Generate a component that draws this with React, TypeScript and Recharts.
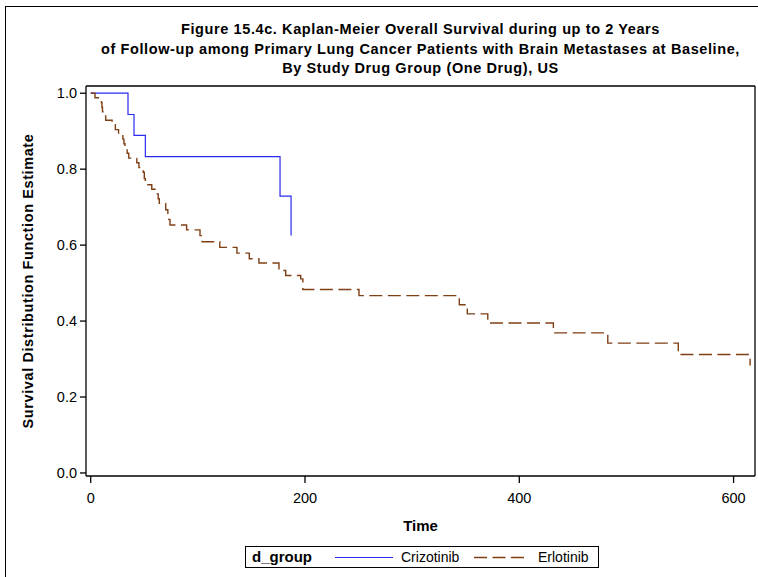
import { LineChart, Line, XAxis, YAxis, Legend, ReferenceLine } from "recharts";

const FONT = "'Liberation Sans', Arial, Helvetica, sans-serif";

const titleLines = [
  "Figure 15.4c. Kaplan-Meier Overall Survival during up to 2 Years",
  "of Follow-up among Primary Lung Cancer Patients with Brain Metastases at Baseline,",
  "By Study Drug Group (One Drug), US",
];

// Kaplan-Meier steps: time (days) and survival estimate after the drop
const crizotinibTime = [0, 34.8, 40.4, 51, 176.7, 187];
const crizotinibSurv = [1, 0.944, 0.889, 0.833, 0.729, 0.625];

const erlotinibTime = [
  0, 4, 10, 10.5, 11, 13, 14, 20, 23, 26, 30, 31, 32, 34, 35.5, 43, 45, 49, 50, 51,
  57, 61, 63, 64, 70, 72, 73, 74, 89.5, 102, 104, 120.5, 136.5, 148, 157, 175.7, 182,
  196, 198, 250.4, 344, 351.5, 370.6, 431.8, 482.6, 548.4, 615.4,
];
const erlotinibSurv = [
  1, 0.988, 0.975, 0.963, 0.951, 0.94, 0.929, 0.917, 0.904, 0.892, 0.879, 0.867, 0.854,
  0.842, 0.829, 0.817, 0.804, 0.792, 0.775, 0.759, 0.747, 0.735, 0.722, 0.71, 0.693, 0.68,
  0.667, 0.653, 0.64, 0.625, 0.609, 0.594, 0.579, 0.564, 0.553, 0.533, 0.52, 0.511, 0.483,
  0.467, 0.443, 0.419, 0.395, 0.369, 0.342, 0.312, 0.283,
];

const xTicks = [0, 200, 400, 600];
const yTicks = [0, 0.2, 0.4, 0.6, 0.8, 1.0];

const BLUE = "#2a2aee";
const BROWN = "#7f3f14";
const DASH = "13 5.5";

const crizotinibData = crizotinibTime.map((t, i) => ({ t, s: crizotinibSurv[i] }));
const erlotinibData = erlotinibTime.map((t, i) => ({ t, s: erlotinibSurv[i] }));

const xDomain: [number, number] = [-4.4, 620];
const yDomain: [number, number] = [-0.008, 1.019];

const tickStyle = { fill: "#000", fontSize: 14.5, fontFamily: FONT };
const axisStroke = { stroke: "#000", strokeWidth: 1.3 };

const renderLegend = () => (
  <div
    style={{
      position: "relative",
      height: 22,
      boxSizing: "border-box",
      border: "1px solid #000",
      fontFamily: FONT,
      fontSize: 14,
      color: "#000",
      background: "#fff",
    }}
  >
    <span style={{ position: "absolute", left: 6, top: 1, fontWeight: "bold", fontSize: 15 }}>
      d_group
    </span>
    <svg style={{ position: "absolute", left: 89, top: 0 }} width={60} height={20}>
      <line x1={0} x2={58} y1={10.5} y2={10.5} stroke={BLUE} strokeWidth={1.2} />
    </svg>
    <span style={{ position: "absolute", left: 155, top: 2 }}>Crizotinib</span>
    <svg style={{ position: "absolute", left: 228, top: 0 }} width={56} height={20}>
      <line x1={0} x2={53} y1={10.5} y2={10.5} stroke={BROWN} strokeWidth={1.3} strokeDasharray={DASH} />
    </svg>
    <span style={{ position: "absolute", left: 292, top: 2 }}>Erlotinib</span>
  </div>
);

export default function App() {
  return (
    <div
      style={{
        position: "absolute",
        left: 0,
        top: 0,
        width: 758,
        height: 577,
        overflow: "hidden",
        background: "#fff",
      }}
    >
      <div
        style={{
          position: "absolute",
          left: 5,
          top: 6,
          width: 900,
          height: 700,
          border: "1px solid #000",
        }}
      />
      <div
        style={{
          position: "absolute",
          left: 86,
          top: 20,
          width: 669,
          textAlign: "center",
          fontFamily: FONT,
          fontWeight: "bold",
          fontSize: 14.5,
          letterSpacing: 0.6,
          lineHeight: "19.5px",
          color: "#000",
        }}
      >
        {titleLines.map((l) => (
          <div key={l}>{l}</div>
        ))}
      </div>
      <div style={{ position: "absolute", left: 0, top: 0 }}>
        <LineChart width={758} height={577} margin={{ top: 86, right: 3, bottom: 9, left: 0 }}>
          <XAxis
            dataKey="t"
            type="number"
            domain={xDomain}
            allowDataOverflow
            ticks={xTicks}
            tick={tickStyle}
            tickSize={7}
            tickMargin={10}
            tickLine={axisStroke}
            axisLine={axisStroke}
            height={70}
            label={{
              value: "Time",
              position: "insideBottom",
              offset: 15,
              style: { fill: "#000", fontWeight: "bold", fontSize: 15, fontFamily: FONT },
            }}
          />
          <YAxis
            type="number"
            domain={yDomain}
            allowDataOverflow
            ticks={yTicks}
            tickFormatter={(v: number) => v.toFixed(1)}
            tick={tickStyle}
            tickSize={6}
            tickMargin={3}
            tickLine={axisStroke}
            axisLine={axisStroke}
            width={86}
            label={{
              value: "Survival Distribution Function Estimate",
              angle: -90,
              position: "insideLeft",
              offset: 28,
              style: {
                fill: "#000",
                fontWeight: "bold",
                fontSize: 14.5,
                letterSpacing: 0.6,
                fontFamily: FONT,
                textAnchor: "middle",
              },
            }}
          />
          {/* close the plot box on top and right */}
          <ReferenceLine x={xDomain[1]} stroke="#000" strokeWidth={1.3} ifOverflow="visible" />
          <ReferenceLine y={yDomain[1]} stroke="#000" strokeWidth={1.3} ifOverflow="visible" />
          <Legend
            verticalAlign="bottom"
            wrapperStyle={{ left: 245, width: 354 }}
            content={renderLegend}
          />
          <Line
            data={crizotinibData}
            dataKey="s"
            name="Crizotinib"
            type="stepAfter"
            stroke={BLUE}
            strokeWidth={1.2}
            dot={false}
            activeDot={false}
            isAnimationActive={false}
          />
          <Line
            data={erlotinibData}
            dataKey="s"
            name="Erlotinib"
            type="stepAfter"
            stroke={BROWN}
            strokeWidth={1.4}
            strokeDasharray={DASH}
            dot={false}
            activeDot={false}
            isAnimationActive={false}
          />
        </LineChart>
      </div>
    </div>
  );
}
